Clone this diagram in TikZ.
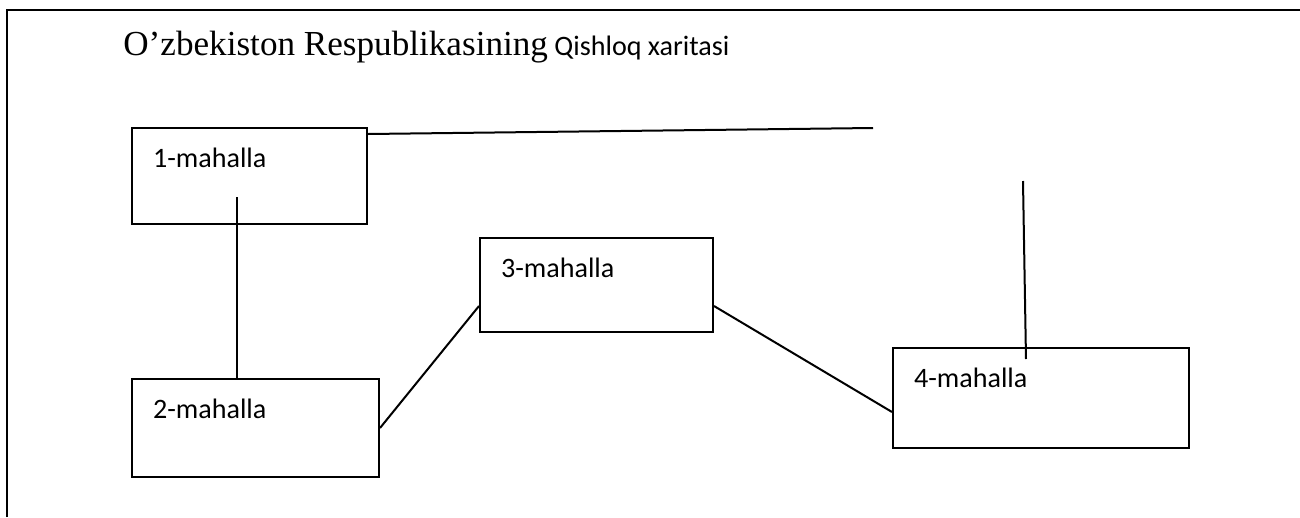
\documentclass[tikz,border=0pt]{standalone}
\usepackage{fontspec}
\setmainfont{Liberation Serif}
\newfontfamily\calib{Carlito}
\usetikzlibrary{calc,positioning}

\tikzset{
	mahalla/.style={draw, line width=0.4mm, anchor=north west, align=left,
		inner xsep=4.2mm, inner ysep=0pt, text height=7.8mm,
		font=\calib\fontsize{16}{19}\selectfont},
	road/.style={line width=0.4mm}
}

\begin{document}
\begin{tikzpicture}[x=0.2mm, y=-0.2mm]
		%%%%% START %%%%%
		\useasboundingbox (0, 0) rectangle (1300, 517);
		
		\draw[line width=0.45mm] (7, 517) -- (7, 10) -- (1300, 10);
		
		\node[anchor=base west, inner sep=0pt] (title) at (123, 55)
			{{\fontsize{20}{24}\selectfont O’zbekiston Respublikasining}\hspace{1.3mm}{\calib\fontsize{16}{19}\selectfont Qishloq xaritasi}};
		
		\node[mahalla, text width=38.6mm, text depth=11.4mm] (m1) at (131, 127) {1-mahalla};
		\node[mahalla, text width=41mm, text depth=11.8mm] (m2) at (131, 378) {2-mahalla};
		\node[mahalla, text width=38.2mm, text depth=11mm] (m3) at (479, 237) {3-mahalla};
		\node[mahalla, text width=50.8mm, text depth=12.2mm] (m4) at (892, 347) {4-mahalla};
		
		\coordinate (r1) at (873, 128);
		\coordinate (r2) at (237, 197);
		\coordinate (r3) at (1023, 181);
		\coordinate (r4) at (1026, 359);
		
		\draw[road] ($(m1.north east)+(0, 7)$) -- (r1);
		\draw[road] (r2) -- (r2 |- m2.north);
		\draw[road] (m2.east) -- ($(m3.west)+(0, 21)$);
		\draw[road] ($(m3.east)+(0, 21)$) -- ($(m4.west)+(0, 14)$);
		\draw[road] (r3) -- (r4);
		
		%%%%% END %%%%%
	\end{tikzpicture}
\end{document}
